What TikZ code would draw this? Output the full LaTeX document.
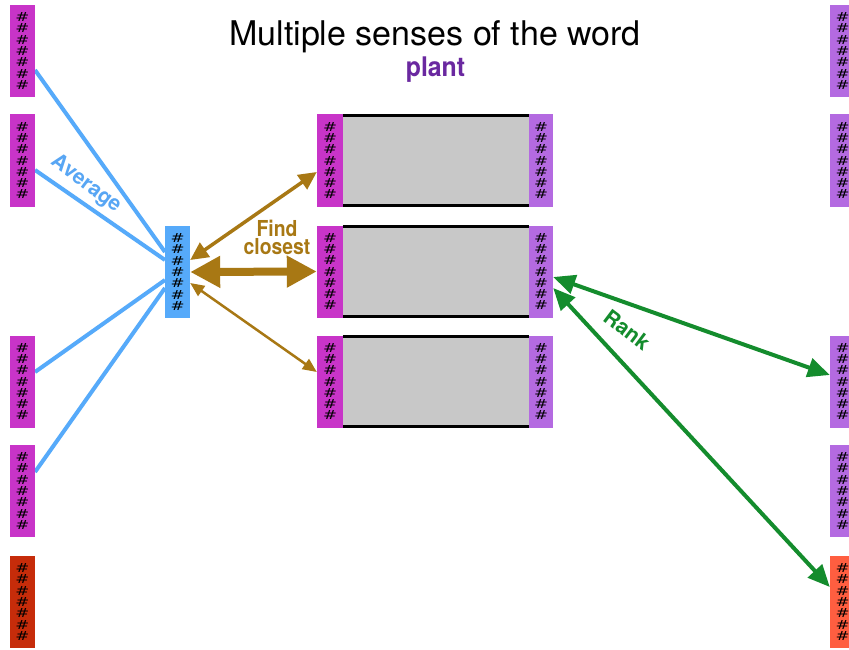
\documentclass[tikz,border=0pt]{standalone}
\usepackage{fontspec}
\setmainfont{TeX Gyre Heros}
\newfontfamily\hashfont{DejaVu Sans}
\usetikzlibrary{arrows.meta}

\definecolor{magv}{RGB}{200,52,200}
\definecolor{lavv}{RGB}{180,106,225}
\definecolor{redv}{RGB}{198,44,10}
\definecolor{orv}{RGB}{255,94,64}
\definecolor{bluev}{RGB}{86,170,250}
\definecolor{avgblue}{RGB}{88,166,244}
\definecolor{brownc}{RGB}{168,120,20}
\definecolor{greenc}{RGB}{20,140,45}
\definecolor{plantc}{RGB}{106,40,160}
\definecolor{midgray}{RGB}{200,200,200}

% one hash mark, sized to a fixed box
\newcommand\hh{\resizebox{14pt}{9pt}{\hashfont\#}}
% seven stacked hash marks standing for vector entries
\newcommand\hashstack{\hh\\\hh\\\hh\\\hh\\\hh\\\hh\\\hh}
\newcommand\cond[2]{\scalebox{#1}[1]{#2}}
% embedding vector: name, centre x, centre y, fill colour
\newcommand\embvec[4]{%
  \node[vecbox, fill=#4] (#1) at (#2,#3) {};
  \node[hashcol] at (#1.center) {\hashstack};}

\tikzset{
  vecbox/.style={rectangle, minimum width=25pt, minimum height=92pt, inner sep=0pt, draw=none},
  hashcol/.style={font=\fontsize{10}{11.3}\selectfont, align=center, inner sep=0pt},
  midpart/.style={rectangle, fill=midgray, minimum width=186pt, minimum height=92pt, inner sep=0pt},
  edge/.style={line width=3pt, black},
  avgline/.style={bluev, line width=4pt},
  brownarr/.style={brownc},
  greenarr/.style={greenc, line width=4pt,
                   {Triangle[length=22pt,width=19pt]}-{Triangle[length=22pt,width=19pt]}},
  slanted label/.style={font=\bfseries\fontsize{21}{24}\selectfont, rotate=-37, inner sep=0pt}
}

\begin{document}
\begin{tikzpicture}[x=1pt, y=-1pt]
\useasboundingbox (0,0) rectangle (849,650);
\fill[white] (0,0) rectangle (849,650);
\clip (0,0) rectangle (849,650);

% title
\node[font=\fontsize{34}{40}\selectfont, anchor=base, inner sep=0pt] (title) at (435,46) {Multiple senses of the word};
\node[font=\bfseries\fontsize{27}{30}\selectfont, text=plantc, anchor=base, inner sep=0pt] (word) at (435.5,77) {\cond{0.92}{plant}};

% averaging lines (behind the vectors)
\draw[avgline] (35,70) coordinate (a1) -- (165,252) coordinate (b1);
\draw[avgline] (35,170) coordinate (a2) -- (165,260) coordinate (b2);
\draw[avgline] (35,372) coordinate (a3) -- (165,280) coordinate (b3);
\draw[avgline] (35,472) coordinate (a4) -- (165,288) coordinate (b4);

% context vectors on the left
\embvec{l1}{22.5}{51}{magv}
\embvec{l2}{22.5}{160.5}{magv}
\embvec{l3}{22.5}{381.5}{magv}
\embvec{l4}{22.5}{491}{magv}
\embvec{l5}{22.5}{602}{redv}

% averaged context vector
\embvec{bv}{177.5}{272}{bluev}

% candidate vectors on the right
\embvec{r1}{842.5}{51}{lavv}
\embvec{r2}{842.5}{160.5}{lavv}
\embvec{r3}{842.5}{381.5}{lavv}
\embvec{r4}{842.5}{491}{lavv}
\embvec{r5}{842.5}{602}{orv}

% sense entries: context vector | gloss | sense vector
\foreach \k/\cy in {1/160.5, 2/271.5, 3/381.5}{
  \node[midpart] (s\k m) at (436,\cy) {};
  \draw[edge] ([yshift=-1.5pt]s\k m.north west) -- ([yshift=-1.5pt]s\k m.north east);
  \draw[edge] ([yshift=1.5pt]s\k m.south west) -- ([yshift=1.5pt]s\k m.south east);
  \node[vecbox, fill=magv, minimum width=26pt] (s\k l) at (330,\cy) {};
  \node[hashcol] at (s\k l.center) {\hashstack};
  \node[vecbox, fill=lavv, minimum width=24pt] (s\k r) at (541,\cy) {};
  \node[hashcol] at (s\k r.center) {\hashstack};
}

% find closest
\draw[brownarr, line width=3.5pt, {Triangle[length=18pt,width=17pt]}-{Triangle[length=18pt,width=17pt]}]
  ([yshift=12pt]bv.east) -- ([yshift=-11.5pt]s1l.west);
\draw[brownarr, line width=8pt, {Triangle[length=30pt,width=30pt]}-{Triangle[length=30pt,width=30pt]}]
  (bv.east) -- (s2l.west);
\draw[brownarr, line width=2.5pt, {Triangle[length=14pt,width=12pt]}-{Triangle[length=14pt,width=12pt]}]
  ([yshift=-11pt]bv.east) -- ([yshift=9.5pt]s3l.west);

% rank
\draw[greenarr] ([yshift=-5.5pt]s2r.east) -- ([yshift=6.5pt]r3.west);
\draw[greenarr] ([yshift=-16.5pt]s2r.east) -- ([yshift=15pt]r5.west);

% labels
\node[font=\bfseries\fontsize{22}{18}\selectfont, text=brownc, align=center, inner sep=0pt] (fc) at (277,237)
  {\cond{0.88}{Find}\\\cond{0.88}{closest}};
\node[slanted label, text=avgblue] (avg) at (86,184) {Average};
\node[slanted label, text=greenc] (rank) at (627,330) {Rank};
\end{tikzpicture}
\end{document}
